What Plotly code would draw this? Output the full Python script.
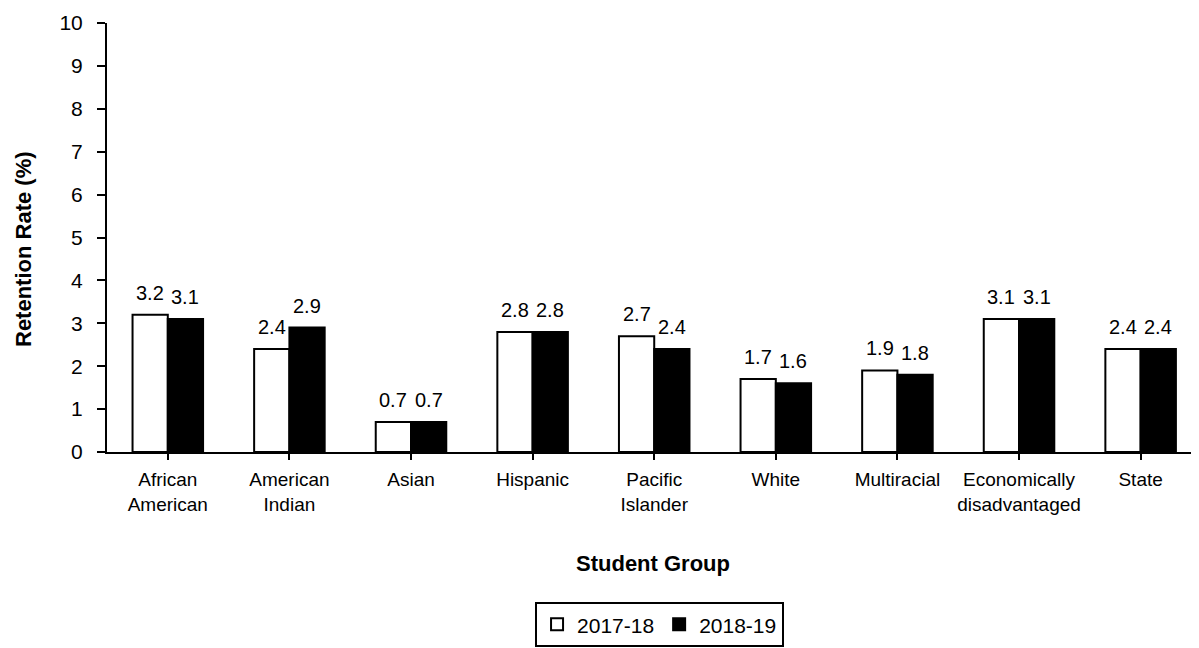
import plotly.graph_objects as go

categories = ["African<br>American", "American<br>Indian", "Asian", "Hispanic",
              "Pacific<br>Islander", "White", "Multiracial",
              "Economically<br>disadvantaged", "State"]
series_names = ["2017-18", "2018-19"]
values_2017_18 = [3.2, 2.4, 0.7, 2.8, 2.7, 1.7, 1.9, 3.1, 2.4]
values_2018_19 = [3.1, 2.9, 0.7, 2.8, 2.4, 1.6, 1.8, 3.1, 2.4]
y_ticks = list(range(0, 11))
x_title = "Student Group"
y_title = "Retention Rate (%)"

FONT = "Liberation Sans Narrow, Arial Narrow, Liberation Sans, Arial, sans-serif"
BOLD = "Liberation Sans, Arial, sans-serif"

fig = go.Figure()
fig.add_trace(go.Bar(x=list(range(len(categories))), y=values_2017_18, name=series_names[0],
                     marker=dict(color="white", line=dict(color="black", width=2))))
fig.add_trace(go.Bar(x=list(range(len(categories))), y=values_2018_19, name=series_names[1],
                     marker=dict(color="black", line=dict(color="black", width=2))))

bargap = 0.42
half = (1 - bargap) / 4
annotations = []
for i, (a, b) in enumerate(zip(values_2017_18, values_2018_19)):
    for off, v in ((-half, a), (half, b)):
        annotations.append(dict(x=i + off, y=v, xref="x", yref="y", text=f"{v:.1f}",
                                showarrow=False, yanchor="bottom", yshift=9,
                                font=dict(family=FONT, size=20, color="black")))
annotations.append(dict(x=-0.077, y=0.473, xref="paper", yref="paper",
                        text=f"<b>{y_title}</b>", textangle=-90, showarrow=False,
                        xanchor="center", yanchor="middle",
                        font=dict(family=BOLD, size=22, color="black")))

fig.update_layout(
    width=1191, height=640,
    margin=dict(l=99, r=0, t=15, b=196, autoexpand=False),
    paper_bgcolor="white", plot_bgcolor="white",
    barmode="group", bargap=bargap, bargroupgap=0,
    font=dict(family=FONT, size=20, color="black"),
    showlegend=True,
    legend=dict(orientation="h", x=0.506, xanchor="center", y=-0.35, yanchor="top",
                bordercolor="black", borderwidth=2, bgcolor="white",
                font=dict(family=FONT, size=21), itemwidth=30, tracegroupgap=0),
    annotations=annotations,
)
fig.update_xaxes(
    tickmode="array", tickvals=list(range(len(categories))), ticktext=categories,
    range=[-0.5, 8.48], showline=True, linecolor="black", linewidth=2,
    ticks="outside", ticklen=6, tickwidth=2, tickcolor="black",
    showgrid=False, zeroline=False, automargin=False,
    tickfont=dict(family=FONT, size=19), ticklabelstandoff=3,
    title=dict(text=f"<b>{x_title}</b>", font=dict(family=BOLD, size=22), standoff=42),
)
fig.update_yaxes(
    range=[0, 10], tickvals=y_ticks, showline=True, linecolor="black", linewidth=2,
    ticks="outside", ticklen=8, tickwidth=2, tickcolor="black",
    showgrid=False, zeroline=False, automargin=False, tickfont=dict(family=FONT, size=21),
    ticklabelstandoff=10,
)
fig.write_html("out.html")
